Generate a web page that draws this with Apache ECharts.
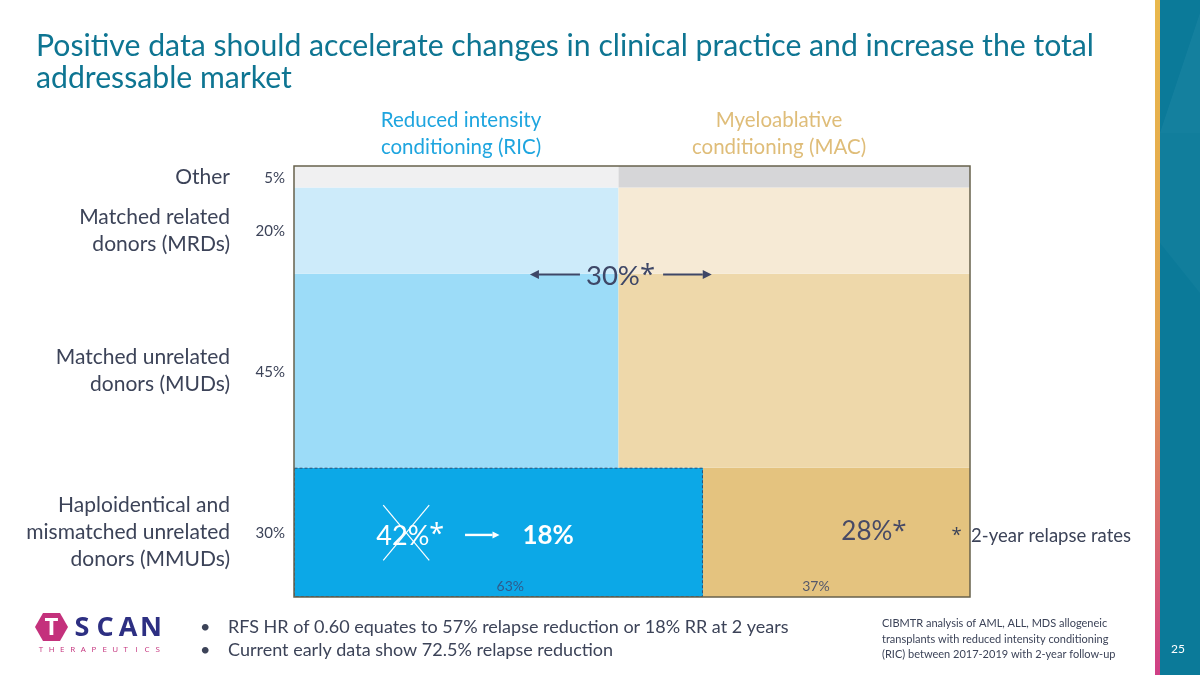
<!DOCTYPE html>
<html><head><meta charset="utf-8">
<script src="https://cdn.jsdelivr.net/npm/echarts@6/dist/echarts.min.js"></script>
<style>html,body{margin:0;padding:0;background:#fff}#c{width:1200px;height:675px}</style>
</head><body><div id="c"></div>
<script>
// ---- data ----
const rowNames = ['Haploidentical and\nmismatched unrelated\ndonors (MMUDs)', 'Matched unrelated\ndonors (MUDs)', 'Matched related\ndonors (MRDs)', 'Other'];
const rowShares = [30, 45, 20, 5];              // % of transplants by donor type (bottom to top)
const rowShareLabels = ['30%', '45%', '20%', '5%'];
const ricShare = [60.5, 48, 48, 48];            // RIC width within each row, as drawn
const columnNames = ['Reduced intensity\nconditioning (RIC)', 'Myeloablative\nconditioning (MAC)'];
const bottomSplitLabels = ['63%', '37%'];
const ricColors = ['#0ca8e7', '#9cdcf8', '#cdebfa', '#f0f0f1'];
const macColors = ['#e4c37f', '#eed8aa', '#f6ead5', '#d6d6d8'];
const overallRelapse = '30%*';
const ricMmudRelapse = '42%*';
const ricMmudNew = '18%';
const macMmudRelapse = '28%*';
const footnote = '*  2-year relapse rates';
const bullets = ['RFS HR of 0.60 equates to 57% relapse reduction or 18% RR at 2 years', 'Current early data show 72.5% relapse reduction'];
const sourceNote = 'CIBMTR analysis of AML, ALL, MDS allogeneic\ntransplants with reduced intensity conditioning\n(RIC) between 2017-2019 with 2-year follow-up';
const title = 'Positive data should accelerate changes in clinical practice and increase the total\naddressable market';

const F = 'Lato';
const TXT = '#3c4358';

// build cells: [x0, x1, y0, y1, rowIndex, side]
const cells = [];
let acc = 0;
rowShares.forEach((s, i) => {
  cells.push([0, ricShare[i], acc, acc + s, i, 0]);
  cells.push([ricShare[i], 100, acc, acc + s, i, 1]);
  acc += s;
});
const rowMids = [];
acc = 0;
rowShares.forEach((s, i) => { rowMids.push([acc + s / 2, i]); acc += s; });

const chart = echarts.init(document.getElementById('c'));

// text with a larger asterisk (rich text)
function starText(str, x, y, size, fill, align, weight) {
  return { type: 'text', style: {
    text: str.replace('*', '{s|*}'), x: x, y: y, align: align || 'center', verticalAlign: 'middle',
    fontSize: size, fontFamily: F, fontWeight: weight || 'normal', fill: fill,
    rich: { s: { fontFamily: 'Open Sans', fontSize: size, fill: fill } }
  } };
}

function cellItem(params, api) {
  const x0 = api.value(0), x1 = api.value(1), y0 = api.value(2), y1 = api.value(3);
  const r = api.value(4), side = api.value(5);
  const a = api.coord([x0, y1]), b = api.coord([x1, y0]);
  const fill = side === 0 ? ricColors[r] : macColors[r];
  const g = { type: 'group', children: [
    { type: 'rect', shape: { x: a[0], y: a[1], width: b[0] - a[0], height: b[1] - a[1] }, style: { fill: fill } }
  ]};
  if (r === 0) {
    const lbl = bottomSplitLabels[side];
    const p = api.coord([side === 0 ? 32 : 77.2, 2.4]);
    g.children.push({ type: 'text', z2: 5, style: { text: lbl, x: p[0], y: p[1], align: 'center', verticalAlign: 'middle', fontSize: 14, fontFamily: F, fill: side === 0 ? '#2f5b8c' : '#55586a' } });
    if (side === 0) {
      g.children.push({ type: 'rect', z2: 4, shape: { x: a[0] + 0.5, y: a[1] + 0.5, width: b[0] - a[0] - 1, height: b[1] - a[1] - 1 }, style: { fill: 'none', stroke: '#2f5178', lineWidth: 1, lineDash: [3, 2] } });
    }
  }
  return g;
}

function arrow(a, b, color, w, hl, hw) {
  const dx = b[0] - a[0], dy = b[1] - a[1];
  const len = Math.sqrt(dx * dx + dy * dy), ux = dx / len, uy = dy / len;
  const bx = b[0] - ux * hl, by = b[1] - uy * hl;
  return [
    { type: 'line', shape: { x1: a[0], y1: a[1], x2: bx, y2: by }, style: { stroke: color, lineWidth: w } },
    { type: 'polygon', shape: { points: [[b[0], b[1]], [bx - uy * hw, by + ux * hw], [bx + uy * hw, by - ux * hw]] }, style: { fill: color } }
  ];
}

function annotItem(params, api) {
  const c = (x, y) => api.coord([x, y]);
  const els = [];
  // frame
  const tl = c(0, 100), br = c(100, 0);
  els.push({ type: 'rect', shape: { x: tl[0], y: tl[1], width: br[0] - tl[0], height: br[1] - tl[1] }, style: { fill: 'none', stroke: '#67624c', lineWidth: 1.5 } });
  // overall relapse
  const p30 = c(ricShare[1] + 0.3, 74.4);
  els.push(starText(overallRelapse, p30[0], p30[1], 27.5, '#3e4767'));
  els.push(...arrow(c(42.3, 74.8), c(34.9, 74.8), '#3e4767', 2, 9, 4.5));
  els.push(...arrow(c(54.6, 74.8), c(61.8, 74.8), '#3e4767', 2, 9, 4.5));
  // RIC MMUD
  const p42 = c(17.2, 14.2);
  els.push(starText(ricMmudRelapse, p42[0], p42[1], 27, '#ffffff'));
  const x1 = c(13.2, 21.3), x2 = c(20.0, 8.5);
  els.push({ type: 'line', shape: { x1: x1[0], y1: x1[1], x2: x2[0], y2: x2[1] }, style: { stroke: '#ffffff', lineWidth: 1.2 } });
  els.push({ type: 'line', shape: { x1: x2[0], y1: x1[1], x2: x1[0], y2: x2[1] }, style: { stroke: '#ffffff', lineWidth: 1.2 } });
  els.push(...arrow(c(25.3, 14.4), c(30.4, 14.4), '#ffffff', 2.4, 7, 3.5));
  const p18 = c(37.6, 14.2);
  els.push({ type: 'text', style: { text: ricMmudNew, x: p18[0], y: p18[1], align: 'center', verticalAlign: 'middle', fontSize: 26, fontWeight: 'bold', fontFamily: F, fill: '#ffffff' } });
  const p28 = c(85.8, 15.2);
  els.push(starText(macMmudRelapse, p28[0], p28[1], 26, '#474a66'));
  // footnote to the right of the plot
  const pf = c(100, 14.2);
  els.push(starText(footnote, pf[0] + 161, pf[1], 18.5, TXT, 'right'));
  return { type: 'group', children: els };
}

function rowLabelItem(params, api) {
  const mid = api.value(0), i = api.value(1);
  const p = api.coord([0, mid]);
  return { type: 'group', children: [
    { type: 'text', style: { text: rowNames[i], x: p[0] - 64, y: p[1], align: 'right', verticalAlign: 'middle', fontSize: 21, lineHeight: 27, fontFamily: F, fill: TXT } },
    { type: 'text', style: { text: rowShareLabels[i], x: p[0] - 9, y: p[1] + 1, align: 'right', verticalAlign: 'middle', fontSize: 15, fontFamily: F, fill: TXT } }
  ]};
}

const graphics = [
  { type: 'text', left: 36, top: 30, style: { text: title, fontSize: 30.2, lineHeight: 32, fontFamily: F, fill: '#0e7592' } },
  { type: 'text', x: 461, y: 134, style: { text: columnNames[0], align: 'center', verticalAlign: 'middle', fontSize: 20.5, lineHeight: 27, fontFamily: F, fill: '#1ea5df' } },
  { type: 'text', x: 779, y: 134, style: { text: columnNames[1], align: 'center', verticalAlign: 'middle', fontSize: 20.5, lineHeight: 27, fontFamily: F, fill: '#dfbd79' } },
  // bullets
  { type: 'text', x: 200, y: 627, style: { text: '•', verticalAlign: 'middle', fontSize: 18, fontFamily: F, fill: TXT } },
  { type: 'text', x: 228, y: 627, style: { text: bullets[0], verticalAlign: 'middle', fontSize: 18, fontFamily: F, fill: TXT } },
  { type: 'text', x: 200, y: 650, style: { text: '•', verticalAlign: 'middle', fontSize: 18, fontFamily: F, fill: TXT } },
  { type: 'text', x: 228, y: 650, style: { text: bullets[1], verticalAlign: 'middle', fontSize: 18, fontFamily: F, fill: TXT } },
  { type: 'text', x: 882, y: 639, style: { text: sourceNote, verticalAlign: 'middle', fontSize: 11, lineHeight: 15.5, fontFamily: F, fill: TXT } },
  // logo
  { type: 'polygon', shape: { points: [[35, 627], [43, 613], [60, 613], [68, 627], [60, 641], [43, 641]] }, style: { fill: '#c4317c' } },
  { type: 'text', x: 51.5, y: 628, style: { text: 'T', align: 'center', verticalAlign: 'middle', fontSize: 24, fontWeight: 'bold', fontFamily: 'Open Sans', fill: '#ffffff' } },
  // right strip
  { type: 'rect', shape: { x: 1155, y: 0, width: 5, height: 675 }, style: { fill: new echarts.graphic.LinearGradient(0, 0, 0, 1, [{ offset: 0, color: '#e9b84c' }, { offset: 0.5, color: '#e3a34e' }, { offset: 1, color: '#cf3f86' }]) } },
  { type: 'rect', shape: { x: 1160, y: 0, width: 40, height: 675 }, style: { fill: '#0b7a99' } },
  { type: 'polygon', shape: { points: [[1160, 133], [1200, 13], [1200, 133]] }, style: { fill: '#2a90ab', opacity: 0.3 } },
  { type: 'polygon', shape: { points: [[1160, 133], [1200, 133], [1200, 293], [1160, 243]] }, style: { fill: '#2a90ab', opacity: 0.18 } },
  { type: 'text', x: 1178, y: 649, style: { text: '25', align: 'center', verticalAlign: 'middle', fontSize: 12, fontFamily: F, fill: '#ffffff' } }
];
// logo wordmark letters (spaced)
'SCAN'.split('').forEach((ch, i) => {
  graphics.push({ type: 'text', x: 82 + i * 23, y: 628, style: { text: ch, align: 'center', verticalAlign: 'middle', fontSize: 27, fontWeight: 'bold', fontFamily: 'Open Sans', fill: '#2d2f82' } });
});
'THERAPEUTICS'.split('').forEach((ch, i) => {
  graphics.push({ type: 'text', x: 41 + i * 10.6, y: 650, style: { text: ch, align: 'center', verticalAlign: 'middle', fontSize: 8, fontFamily: 'Open Sans', fill: '#c4317c' } });
});

chart.setOption({
  animation: false,
  backgroundColor: '#ffffff',
  grid: { left: 294, top: 166, width: 676, height: 431 },
  xAxis: { type: 'value', min: 0, max: 100, show: false },
  yAxis: { type: 'value', min: 0, max: 100, show: false },
  series: [
    { type: 'custom', name: 'cells', renderItem: cellItem, data: cells, encode: { x: [0, 1], y: [2, 3] }, z: 2 },
    { type: 'custom', name: 'annotations', renderItem: annotItem, data: [[50, 50]], encode: { x: 0, y: 1 }, z: 5 },
    { type: 'custom', name: 'rowLabels', renderItem: rowLabelItem, data: rowMids, encode: { y: 0 }, z: 5 }
  ],
  graphic: graphics
});
</script>
</body></html>
